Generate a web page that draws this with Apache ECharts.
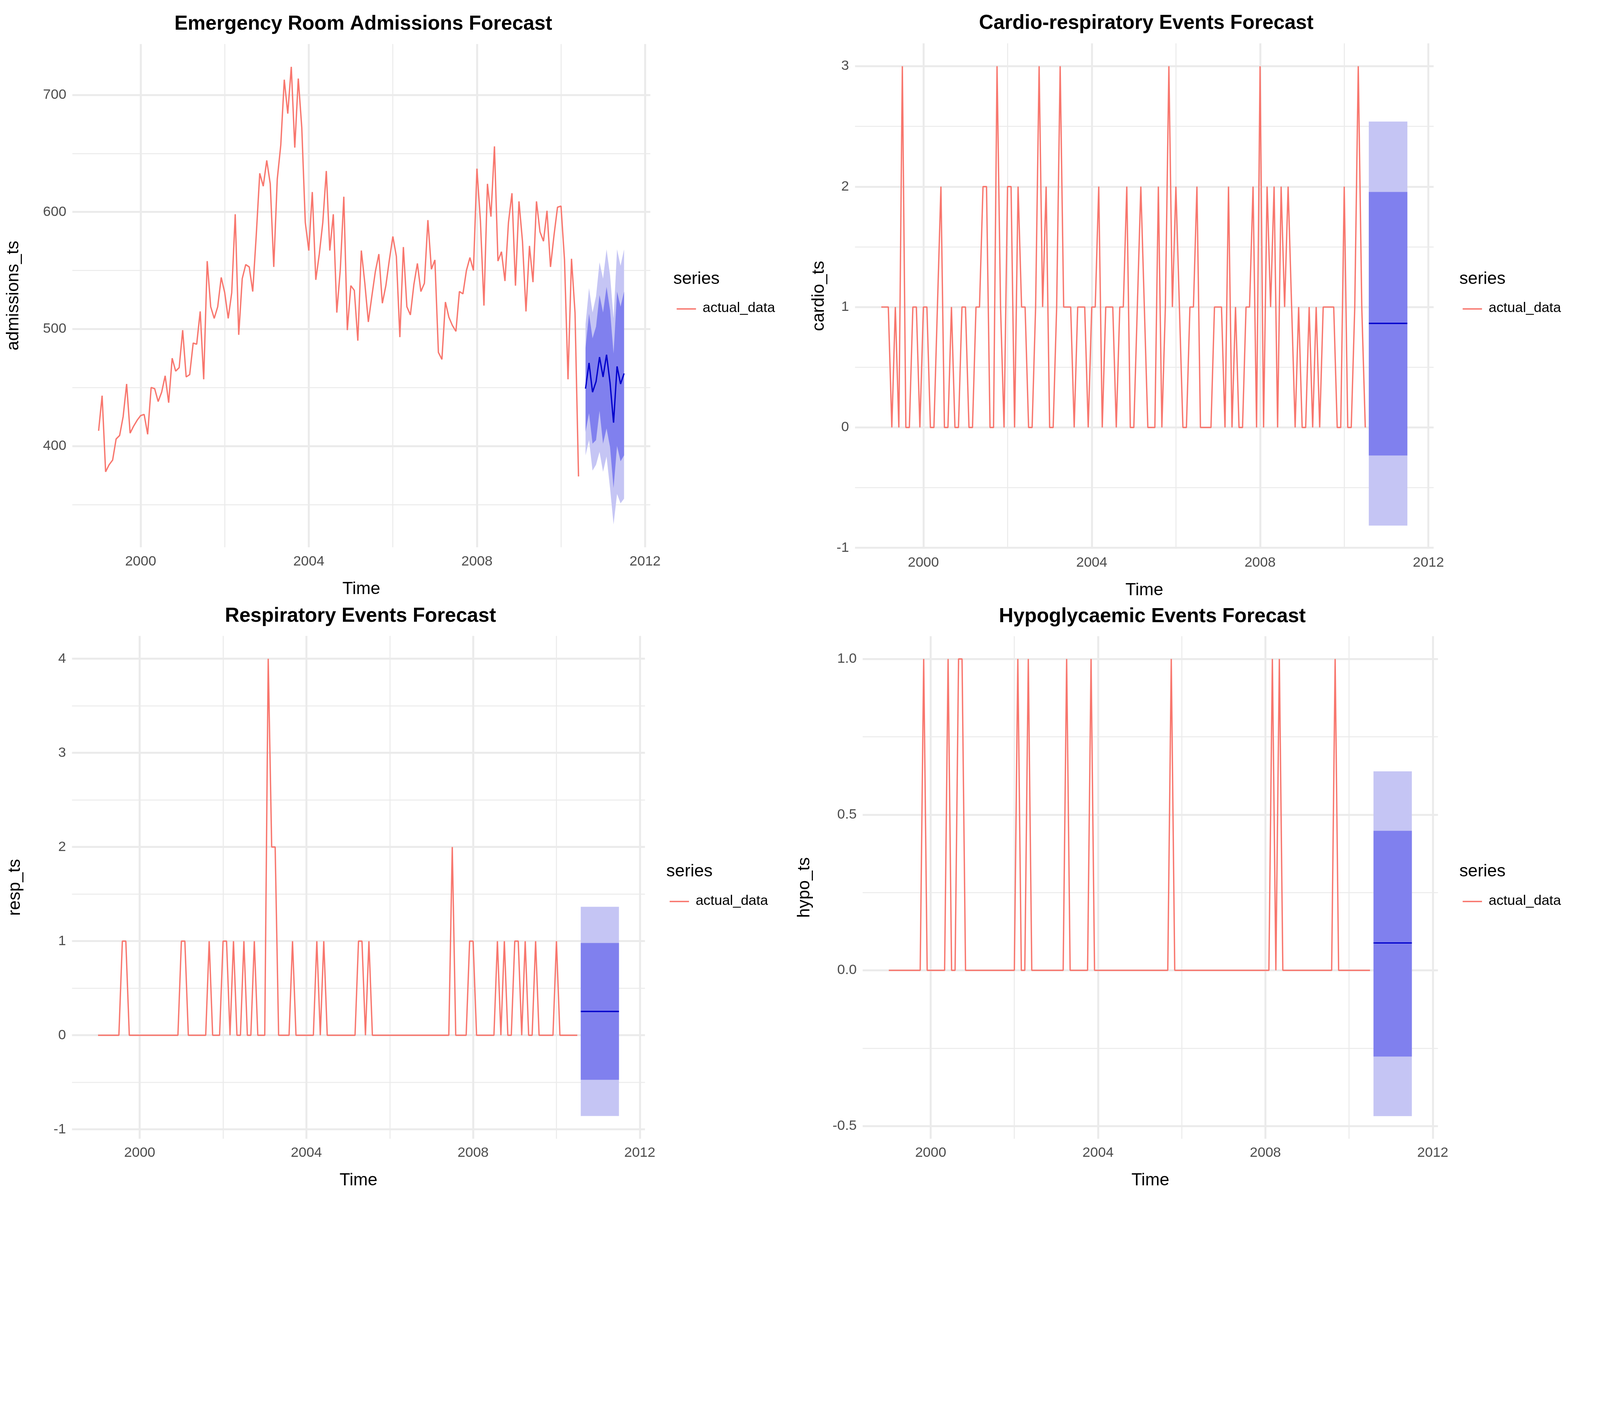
<!DOCTYPE html>
<html><head><meta charset="utf-8">
<script src="https://cdn.jsdelivr.net/npm/echarts@6/dist/echarts.min.js"></script>
<style>html,body{margin:0;padding:0;background:#fff;overflow:hidden}#c{width:100vw;height:100vh}</style>
</head><body><div id="c"></div>
<script>
const startYear = 1999;
const fcStart = 2010 + 7/12;
const admissions = [413,443,378,384,388,406,409,425,453,411,417,422,426,427,410,450,449,438,446,460,437,475,464,467,499,459,461,488,487,515,457,558,519,509,519,544,531,509,531,598,495,543,555,553,532,580,633,622,644,624,553,628,657,713,684,724,655,714,672,591,567,617,542,564,591,635,567,598,514,551,613,499,537,533,490,567,539,506,528,549,564,522,537,559,579,562,493,570,519,512,538,556,532,539,593,551,559,480,474,523,510,503,498,532,530,550,561,550,637,592,520,624,596,656,558,566,541,591,616,537,609,575,515,571,540,609,583,575,601,553,580,604,605,559,457,560,514,374];
const admFcMean = [449,471,446,455,476,459,478,454,420,468,453,462];
const admFcLo80 = [412,428,402,405,430,402,415,399,364,400,387,392];
const admFcHi80 = [484,513,492,502,529,514,536,516,479,532,519,532];
const admFcLo95 = [392,405,379,384,395,378,391,364,333,359,351,355];
const admFcHi95 = [504,535,514,528,557,543,568,546,509,568,554,568];
const cardio = [1,1,1,0,1,0,3,0,0,1,1,0,1,1,0,0,1,2,0,0,1,0,0,1,1,0,0,1,1,2,2,0,0,3,1,0,2,2,0,2,1,1,0,0,1,3,1,2,0,0,1,3,1,1,1,0,1,1,1,0,1,1,2,0,1,1,1,0,1,1,2,0,0,1,2,1,0,0,0,2,0,1,3,1,2,1,0,0,1,1,2,0,0,0,0,1,1,1,0,2,0,1,0,0,1,1,2,0,3,0,2,1,2,0,2,1,2,1,0,1,0,0,1,0,1,0,1,1,1,1,0,0,2,0,0,1,3,1,0];
const cardioFc = {mean:0.864, lo80:-0.233, hi80:1.956, lo95:-0.815, hi95:2.54};
const resp = [0,0,0,0,0,0,0,1,1,0,0,0,0,0,0,0,0,0,0,0,0,0,0,0,1,1,0,0,0,0,0,0,1,0,0,0,1,1,0,1,0,0,1,0,0,1,0,0,0,4,2,2,0,0,0,0,1,0,0,0,0,0,0,1,0,1,0,0,0,0,0,0,0,0,0,1,1,0,1,0,0,0,0,0,0,0,0,0,0,0,0,0,0,0,0,0,0,0,0,0,0,0,2,0,0,0,0,1,1,0,0,0,0,0,0,1,0,1,0,0,1,1,0,1,0,0,1,0,0,0,0,0,1,0,0,0,0,0,0];
const respFc = {mean:0.253, lo80:-0.473, hi80:0.98, lo95:-0.858, hi95:1.365};
const hypoOnes = [10,17,20,21,37,40,51,58,81,110,112,128];
const hypo = Array.from({length:139},(_,i)=>hypoOnes.includes(i)?1:0);
const hypoFc = {mean:0.088, lo80:-0.277, hi80:0.448, lo95:-0.468, hi95:0.639};

const RED='#F8766D', BLUE='#0000CC', DARK='#8080EE', LIGHT='#C5C5F4', GRID='#EBEBEB';
const FONT='Liberation Sans';
const el = document.getElementById('c');
const S = (el.clientWidth || window.innerWidth) / 4800;
const px = v => v*S;
const xt = n => Array.from({length:n},(_,i)=>startYear+i/12);
const ft = Array.from({length:12},(_,i)=>fcStart+i/12);

const panels = [
 {title:'Emergency Room Admissions Forecast', yname:'admissions_ts', data:admissions,
  grid:{left:217,width:1734,top:132,height:1510}, ymin:313.5, ymax:743.5, major:[400,500,600,700], minor:[350,450,550,650], gap:150,
  mean:admFcMean, lo80:admFcLo80, hi80:admFcHi80, lo95:admFcLo95, hi95:admFcHi95, leg:[2020,842], fmt:v=>String(v)},
 {title:'Cardio-respiratory Events Forecast', yname:'cardio_ts', data:cardio,
  grid:{left:2565,width:1736,top:130,height:1516}, ymin:-1.006, ymax:3.19, major:[-1,0,1,2,3], minor:[-0.5,0.5,1.5,2.5], gap:82,
  fc:cardioFc, leg:[4378,842], fmt:v=>String(v)},
 {title:'Respiratory Events Forecast', yname:'resp_ts', data:resp,
  grid:{left:216,width:1719,top:1908,height:1509}, ymin:-1.1, ymax:4.243, major:[-1,0,1,2,3,4], minor:[-0.5,0.5,1.5,2.5,3.5], gap:145,
  fc:respFc, leg:[1999,2620], fmt:v=>String(v)},
 {title:'Hypoglycaemic Events Forecast', yname:'hypo_ts', data:hypo,
  grid:{left:2588,width:1726,top:1909,height:1508}, ymin:-0.541, ymax:1.073, major:[-0.5,0,0.5,1], minor:[-0.25,0.25,0.75], gap:148,
  fc:hypoFc, leg:[4378,2620], fmt:v=>v.toFixed(1)}
];

const option = {backgroundColor:'#fff', animation:false, grid:[], xAxis:[], yAxis:[], series:[], title:[], graphic:[]};
panels.forEach((p,k)=>{
  if(p.fc){
    p.mean=ft.map(()=>p.fc.mean); p.lo80=ft.map(()=>p.fc.lo80); p.hi80=ft.map(()=>p.fc.hi80);
    p.lo95=ft.map(()=>p.fc.lo95); p.hi95=ft.map(()=>p.fc.hi95);
  }
  const g = p.grid;
  option.grid.push({containLabel:false, left:px(g.left), width:px(g.width), top:px(g.top), height:px(g.height)});
  option.title.push({text:p.title, left:px(g.left+g.width/2), top:px(g.top-95), textAlign:'center',
    textStyle:{fontFamily:FONT,fontSize:px(60),fontWeight:'bold',color:'#000'}});
  option.xAxis.push({type:'value', gridIndex:k, min:1998.375, max:2012.125, name:'Time', nameLocation:'middle', nameGap:px(100),
    nameTextStyle:{fontFamily:FONT,fontSize:px(52),color:'#000'},
    axisLine:{show:false}, axisTick:{show:false}, splitLine:{show:false},
    axisLabel:{customValues:[2000,2004,2008,2012], fontFamily:FONT, fontSize:px(42), color:'#4D4D4D', margin:px(22), formatter:v=>String(Math.round(v))}});
  option.yAxis.push({type:'value', gridIndex:k, min:p.ymin, max:p.ymax, name:p.yname, nameLocation:'middle', nameGap:px(p.gap), nameRotate:90,
    nameTextStyle:{fontFamily:FONT,fontSize:px(52),color:'#000'},
    axisLine:{show:false}, axisTick:{show:false}, splitLine:{show:false},
    axisLabel:{customValues:p.major, fontFamily:FONT, fontSize:px(42), color:'#4D4D4D', margin:px(18), formatter:p.fmt}});
  const ml = [];
  p.minor.forEach(v=>ml.push({yAxis:v, lineStyle:{color:GRID,width:px(3),type:'solid'}}));
  [2002,2006,2010].forEach(v=>ml.push({xAxis:v, lineStyle:{color:GRID,width:px(3),type:'solid'}}));
  p.major.forEach(v=>ml.push({yAxis:v, lineStyle:{color:GRID,width:px(6),type:'solid'}}));
  [2000,2004,2008,2012].forEach(v=>ml.push({xAxis:v, lineStyle:{color:GRID,width:px(6),type:'solid'}}));
  option.series.push({type:'line', xAxisIndex:k, yAxisIndex:k, data:[[2000,p.major[0]]], symbol:'none', silent:true, z:0,
    lineStyle:{opacity:0}, markLine:{silent:true, z:0, symbol:['none','none'], label:{show:false}, animation:false, data:ml}});
  const band = (lo,hi,color,z)=>({type:'custom', xAxisIndex:k, yAxisIndex:k, z:z, silent:true,
    data:ft.map((x,i)=>[x,lo[i],hi[i]]),
    renderItem:(params,api)=>{
      if(params.dataIndex!==0) return;
      const top=ft.map((x,i)=>api.coord([x,hi[i]]));
      const bot=ft.map((x,i)=>api.coord([x,lo[i]])).reverse();
      return {type:'polygon', shape:{points:top.concat(bot)}, style:{fill:color}};
    }});
  option.series.push(band(p.lo95,p.hi95,LIGHT,6));
  option.series.push(band(p.lo80,p.hi80,DARK,7));
  option.series.push({type:'line', name:'forecast', xAxisIndex:k, yAxisIndex:k, data:ft.map((x,i)=>[x,p.mean[i]]), symbol:'none', z:8,
    lineStyle:{color:BLUE,width:px(4)}});
  option.series.push({type:'line', name:'actual_data', xAxisIndex:k, yAxisIndex:k, data:xt(p.data.length).map((x,i)=>[x,p.data[i]]), symbol:'none', z:9,
    lineStyle:{color:RED,width:px(4)}});
  const [lx,ly]=p.leg;
  option.graphic.push({type:'text', left:px(lx), top:px(ly-30), style:{text:'series', fontFamily:FONT, fontSize:px(52), fill:'#000'}});
  option.graphic.push({type:'line', shape:{x1:px(lx+10),y1:px(ly+85),x2:px(lx+68),y2:px(ly+85)}, style:{stroke:RED,lineWidth:px(4)}});
  option.graphic.push({type:'text', left:px(lx+88), top:px(ly+62), style:{text:'actual_data', fontFamily:FONT, fontSize:px(42), fill:'#000'}});
});
const chart = echarts.init(el);
chart.setOption(option);
</script></body></html>
